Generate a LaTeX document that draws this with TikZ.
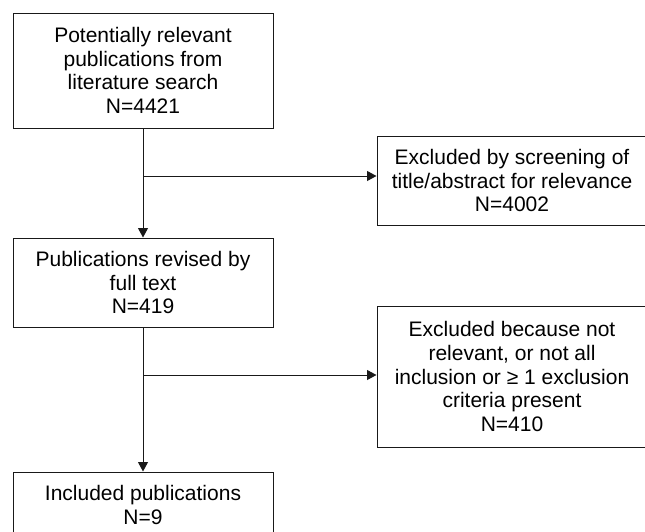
\documentclass[tikz,border=0pt]{standalone}
\usepackage{fontspec}
\setmainfont{Liberation Sans}
\usetikzlibrary{arrows.meta}
\begin{document}
\begin{tikzpicture}[x=1pt,y=-1pt,
  boxnode/.style={draw=black!90, line width=1pt, align=center, inner sep=0pt,
    font=\fontsize{21}{23.6}\selectfont, text=black},
  arr/.style={draw=black!90, line width=1pt, -{Triangle[length=9.5pt,width=10pt]}}]
\useasboundingbox (0,0) rectangle (645,531);
\node[boxnode, minimum width=260, minimum height=115] (b1) at (143,70.5)
  {Potentially relevant\\publications from\\literature search\\N=4421};
\node[boxnode, minimum width=270, minimum height=89] (b3) at (512,180.5)
  {Excluded by screening of\\title/abstract for relevance\\N=4002};
\node[boxnode, minimum width=260, minimum height=89] (b2) at (143,282.5)
  {Publications revised by\\full text\\N=419};
\node[boxnode, minimum width=270, minimum height=141] (b4) at (512,376.5)
  {Excluded because not\\relevant, or not all\\inclusion or ≥ 1 exclusion\\criteria present\\N=410};
\node[boxnode, minimum width=260, minimum height=66] (b5) at (143,505)
  {Included publications\\N=9};
\coordinate (j1) at (143,176);
\coordinate (j2) at (143,375);
\draw[arr] (b1.south) -- (b2.north);
\draw[arr] (j1) -- (j1 -| b3.west);
\draw[arr] (b2.south) -- (b5.north);
\draw[arr] (j2) -- (j2 -| b4.west);
\end{tikzpicture}
\end{document}
